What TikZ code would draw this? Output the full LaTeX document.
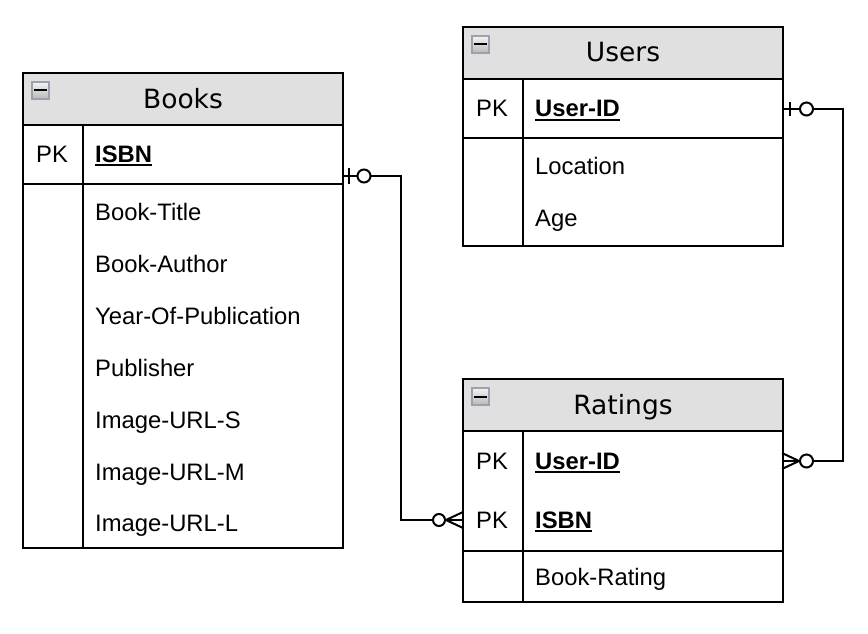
\documentclass[tikz,border=0pt]{standalone}
\usepackage{fontspec}
\setmainfont{Liberation Sans}
\newfontfamily\hfont{DejaVu Sans}
\newcommand\myul[1]{\setbox0\hbox{#1}\rlap{\rule[-3.6pt]{\wd0}{1.8pt}}\box0}
\definecolor{hdrgray}{HTML}{E0E0E0}
\definecolor{iconborder}{HTML}{9CA1AE}
\definecolor{icontop}{HTML}{F4F4F4}
\definecolor{iconbot}{HTML}{B8B8B8}
\tikzset{
  cell/.style={draw=black, line width=2pt, inner sep=0pt, outer sep=0pt, anchor=north west, minimum width=320pt},
  hdr/.style={cell, fill=hdrgray, minimum height=52pt},
  ttl/.style={font=\hfont\fontsize{26.5}{31}\selectfont, anchor=base, inner sep=0pt},
  fld/.style={font=\fontsize{23.8}{28}\selectfont, anchor=base west, inner sep=0pt},
  pk/.style={font=\fontsize{23.8}{28}\selectfont, anchor=base, inner sep=0pt},
  conn/.style={draw=black, line width=2pt},
  ocirc/.style={draw=black, line width=2pt, fill=white},
  icon/.style={draw=iconborder, line width=1.6pt, top color=icontop, bottom color=iconbot, minimum size=17pt, inner sep=0pt},
}
\begin{document}
\begin{tikzpicture}[x=1pt, y=-1pt]
\useasboundingbox (0,0) rectangle (868,634);
\fill[white] (0,0) rectangle (868,634);

% ---------- Books ----------
\node[hdr] (booksH) at (23,73) {};
\node[cell, minimum height=59pt] (booksPK) at (23,125) {};
\node[cell, minimum height=364pt] (booksF) at (23,184) {};
\draw[line width=2pt] ([xshift=60pt]booksPK.north west) -- ([xshift=60pt]booksF.south west);
\node[icon] (booksI) at (40.5,90.5) {};
\draw[line width=2pt] ([xshift=3pt]booksI.west) -- ([xshift=-3pt]booksI.east);
\node[ttl] (booksT) at (183,108) {Books};
\node[pk] (booksPKl) at (52,162) {PK};
\node[fld] (bISBN) at (95,162) {\myul{\textbf{ISBN}}};
\node[fld] (b1) at (95,220) {Book-Title};
\node[fld] (b2) at (95,272) {Book-Author};
\node[fld] (b3) at (95,324) {Year-Of-Publication};
\node[fld] (b4) at (95,376) {Publisher};
\node[fld] (b5) at (95,428) {Image-URL-S};
\node[fld] (b6) at (95,480) {Image-URL-M};
\node[fld] (b7) at (95,531) {Image-URL-L};

% ---------- Users ----------
\node[hdr] (usersH) at (463,27) {};
\node[cell, minimum height=59pt] (usersPK) at (463,79) {};
\node[cell, minimum height=108pt] (usersF) at (463,138) {};
\draw[line width=2pt] ([xshift=60pt]usersPK.north west) -- ([xshift=60pt]usersF.south west);
\node[icon] (usersI) at (480.5,44.5) {};
\draw[line width=2pt] ([xshift=3pt]usersI.west) -- ([xshift=-3pt]usersI.east);
\node[ttl] (usersT) at (623,62) {Users};
\node[pk] (usersPKl) at (492,117) {PK};
\node[fld] (uID) at (535,117) {\myul{\textbf{User-ID}}};
\node[fld] (u1) at (535,174) {Location};
\node[fld] (u2) at (535,226) {Age};

% ---------- Ratings ----------
\node[hdr] (ratH) at (463,379) {};
\node[cell, minimum height=120pt] (ratPK) at (463,431) {};
\node[cell, minimum height=51pt] (ratF) at (463,551) {};
\draw[line width=2pt] ([xshift=60pt]ratPK.north west) -- ([xshift=60pt]ratF.south west);
\node[icon] (ratI) at (480.5,396.5) {};
\draw[line width=2pt] ([xshift=3pt]ratI.west) -- ([xshift=-3pt]ratI.east);
\node[ttl] (ratT) at (623,414) {Ratings};
\node[pk] (ratPK1) at (492,469) {PK};
\node[fld] (rUID) at (535,469) {\myul{\textbf{User-ID}}};
\node[pk] (ratPK2) at (492,528) {PK};
\node[fld] (rISBN) at (535,528) {\myul{\textbf{ISBN}}};
\node[fld] (r1) at (535,585) {Book-Rating};

% ---------- Connector Books -> Ratings ----------
\coordinate (bkE) at (343,176);
\coordinate (rtI) at (463,520);
\draw[conn] (bkE) -- (401,176) -- (401,520) -- (rtI);
\draw[line width=2pt] (349,168) -- (349,184);
\node[ocirc, circle, minimum size=13pt, inner sep=0pt] (c1) at (364,176) {};
\draw[line width=2pt] (463,512) -- (446,520) -- (463,528);
\node[ocirc, circle, minimum size=12pt, inner sep=0pt] (c2) at (439,520) {};

% ---------- Connector Users -> Ratings ----------
\coordinate (usE) at (782,109);
\coordinate (rtU) at (782,461);
\draw[conn] (usE) -- (843,109) -- (843,461) -- (rtU);
\draw[line width=2pt] (790,102) -- (790,116);
\node[ocirc, circle, minimum size=13pt, inner sep=0pt] (c3) at (806.5,109) {};
\draw[line width=2pt] (782,453) -- (799,461) -- (782,469);
\node[ocirc, circle, minimum size=13pt, inner sep=0pt] (c4) at (806.5,461) {};
\end{tikzpicture}
\end{document}
